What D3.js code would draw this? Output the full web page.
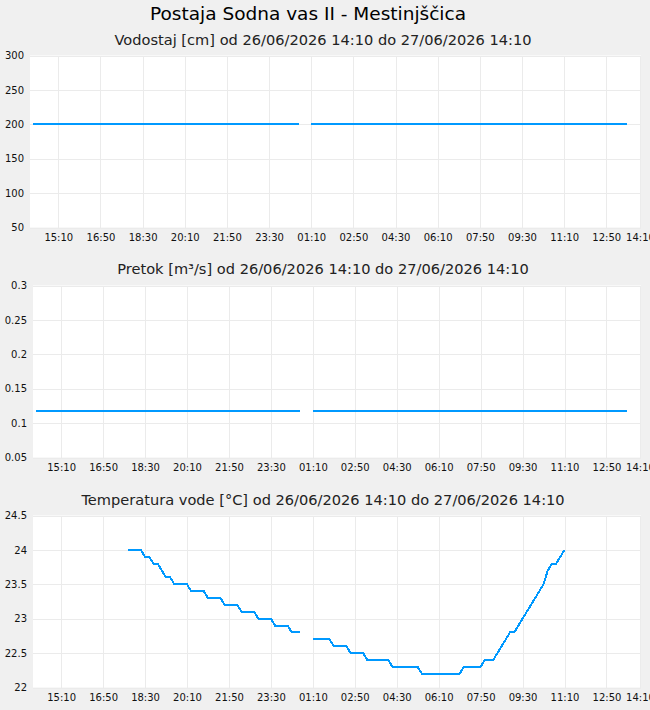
<!DOCTYPE html>
<html>
<head>
<meta charset="utf-8">
<script src="https://cdnjs.cloudflare.com/ajax/libs/d3/7.8.5/d3.min.js"></script>
<style>
    body { margin: 0; background: #f0f0f0; font-family: "DejaVu Sans", sans-serif; }
    svg { display: block; }
</style>
</head>
<body>
<svg id="graphic"></svg>
<script>

// Station and period
const stationTitle = "Postaja Sodna vas II - Mestinjščica"
const periodText = "od 26/06/2026 14:10 do 27/06/2026 14:10"
const periodStart = "2026-06-26 14:10"
const periodEnd = "2026-06-27 14:10"

// Time ticks (every 100 min + end of period)
const xTickTimes = [
    "2026-06-26 15:10", "2026-06-26 16:50", "2026-06-26 18:30", "2026-06-26 20:10",
    "2026-06-26 21:50", "2026-06-26 23:30", "2026-06-27 01:10", "2026-06-27 02:50",
    "2026-06-27 04:30", "2026-06-27 06:10", "2026-06-27 07:50", "2026-06-27 09:30",
    "2026-06-27 11:10", "2026-06-27 12:50", "2026-06-27 14:10"
]

// Vodostaj [cm] - flat runs of equal readings [from, to, value]
const levelRuns = [
    ["2026-06-26 14:10", "2026-06-27 00:40", 200],
    ["2026-06-27 01:10", "2026-06-27 13:40", 200]
]
const levelTicks = [50, 100, 150, 200, 250, 300]

// Pretok [m3/s] - flat runs of equal readings [from, to, value]
const flowRuns = [
    ["2026-06-26 14:10", "2026-06-27 00:40", 0.117],
    ["2026-06-27 01:10", "2026-06-27 13:40", 0.117]
]
const flowTicks = [0.05, 0.1, 0.15, 0.2, 0.25, 0.3]

// Temperatura vode [°C] - readings every 10 minutes, two segments
const tempStarts = ["2026-06-26 17:50", "2026-06-27 01:10"]
const tempValues = [
    [24.0, 24.0, 24.0, 24.0, 23.9, 23.9, 23.8, 23.8, 23.7, 23.6,
     23.6, 23.5, 23.5, 23.5, 23.5, 23.4, 23.4, 23.4, 23.4, 23.3,
     23.3, 23.3, 23.3, 23.2, 23.2, 23.2, 23.2, 23.1, 23.1, 23.1,
     23.1, 23.0, 23.0, 23.0, 23.0, 22.9, 22.9, 22.9, 22.9, 22.8,
     22.8, 22.8],
    [22.7, 22.7, 22.7, 22.7, 22.7, 22.6, 22.6, 22.6, 22.6, 22.5,
     22.5, 22.5, 22.5, 22.4, 22.4, 22.4, 22.4, 22.4, 22.4, 22.3,
     22.3, 22.3, 22.3, 22.3, 22.3, 22.3, 22.2, 22.2, 22.2, 22.2,
     22.2, 22.2, 22.2, 22.2, 22.2, 22.2, 22.3, 22.3, 22.3, 22.3,
     22.3, 22.4, 22.4, 22.4, 22.5, 22.6, 22.7, 22.8, 22.8, 22.9,
     23.0, 23.1, 23.2, 23.3, 23.4, 23.5, 23.7, 23.8, 23.8, 23.9,
     24.0]
]
const tempTicks = [22, 22.5, 23, 23.5, 24, 24.5]

const STEP_MIN = 10


document.addEventListener("DOMContentLoaded", () => {

    const parse = d3.timeParse("%Y-%m-%d %H:%M")

    // Build line segments from the arrays
    const runsToLines = runs => runs.map(r => [
        { t: parse(r[0]), v: r[2] },
        { t: parse(r[1]), v: r[2] }
    ])

    const tempLines = tempStarts.map((s, k) => {
        const t0 = parse(s)
        return tempValues[k].map((v, i) => ({ t: d3.timeMinute.offset(t0, i * STEP_MIN), v: v }))
    })

    const w = 650
    const h = 710

    const graphic = d3.select("#graphic")
        .attr("width", w)
        .attr("height", h)

    graphic.append("text")
        .attr("x", 308)
        .attr("y", 20)
        .attr("text-anchor", "middle")
        .attr("font-size", 18.5)
        .attr("fill", "#000")
        .text(stationTitle)

    const common = {
        t0: parse(periodStart),
        t1: parse(periodEnd),
        ticks: xTickTimes.map(parse)
    }

    drawPanel(graphic, Object.assign({}, common, {
        title: "Vodostaj [cm] " + periodText,
        titleY: 45,
        top: 55.5,
        left: 30,
        yTicks: levelTicks,
        lines: runsToLines(levelRuns)
    }))

    drawPanel(graphic, Object.assign({}, common, {
        title: "Pretok [m³/s] " + periodText,
        titleY: 274,
        top: 285.5,
        left: 33,
        yTicks: flowTicks,
        lines: runsToLines(flowRuns)
    }))

    drawPanel(graphic, Object.assign({}, common, {
        title: "Temperatura vode [°C] " + periodText,
        titleY: 504.5,
        top: 515.5,
        left: 33,
        yTicks: tempTicks,
        lines: tempLines
    }))
})


function drawPanel(svg, p) {

    const right = 641
    const ph = 172
    const bottom = p.top + ph

    // Scales
    const xScale = d3.scaleTime()
        .domain([p.t0, p.t1])
        .range([p.left + 3, right - 1])

    const yScale = d3.scaleLinear()
        .domain(d3.extent(p.yTicks))
        .range([bottom, p.top])

    svg.append("text")
        .attr("x", 323)
        .attr("y", p.titleY)
        .attr("text-anchor", "middle")
        .attr("font-size", 14.6)
        .attr("fill", "#222")
        .text(p.title)

    // plot background
    svg.append("rect")
        .attr("x", p.left)
        .attr("y", p.top)
        .attr("width", right - p.left)
        .attr("height", ph)
        .attr("fill", "#fff")

    // Axes with gridlines
    const axisBottom = d3.axisBottom(xScale)
        .tickValues(p.ticks)
        .tickFormat(d3.timeFormat("%H:%M"))
        .tickSize(-ph)
        .tickPadding(6)

    const axisLeft = d3.axisLeft(yScale)
        .tickValues(p.yTicks)
        .tickFormat(d => String(d))
        .tickSize(-(right - p.left))
        .tickPadding(6)

    const gx = svg.append("g")
        .attr("transform", `translate(0, ${bottom})`)
        .call(axisBottom)

    const gy = svg.append("g")
        .attr("transform", `translate(${p.left}, 0)`)
        .call(axisLeft)

    ;[gx, gy].forEach(g => {
        g.select(".domain").remove()
        g.selectAll("line")
            .attr("stroke", "#ebebeb")
            .attr("shape-rendering", "crispEdges")
        g.selectAll("text")
            .attr("font-family", "DejaVu Sans, sans-serif")
            .attr("font-size", 10)
            .attr("fill", "#111")
    })

    // Data lines
    const line = d3.line()
        .x(d => xScale(d.t))
        .y(d => yScale(d.v))

    svg.append("g")
        .selectAll("path")
        .data(p.lines)
        .enter()
        .append("path")
        .attr("d", line)
        .attr("fill", "none")
        .attr("stroke", "#0099ff")
        .attr("stroke-width", 2)
        .attr("shape-rendering", "crispEdges")
}

</script>
</body>
</html>
